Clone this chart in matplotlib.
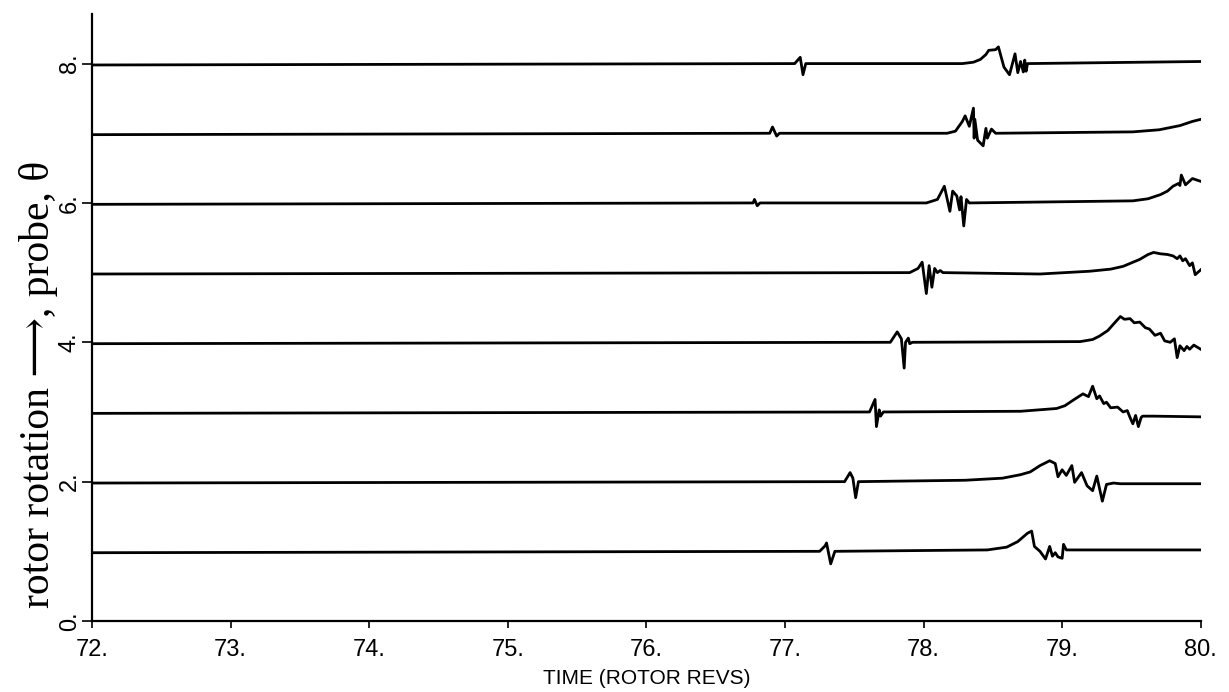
import numpy as np
import matplotlib
matplotlib.use("Agg")
import matplotlib.pyplot as plt

# probe traces: (time in rotor revs, deviation from the probe's baseline)
# each probe is drawn at its own offset on the y axis
probe_offsets = [1, 2, 3, 4, 5, 6, 7, 8]

p1_x  = [72.0, 77.25, 77.29, 77.30, 77.33, 77.36, 78.46, 78.60, 78.68, 78.75, 78.78, 78.80, 78.84, 78.88, 78.91, 78.93, 78.95, 78.97, 79.00, 79.01, 79.03, 80.0]
p1_dy = [-0.02, 0.0, 0.08, 0.12, -0.18, 0.0, 0.02, 0.06, 0.14, 0.26, 0.29, 0.07, 0.0, -0.11, 0.07, -0.07, -0.02, -0.08, -0.10, 0.10, 0.02, 0.02]

p2_x  = [72.0, 77.43, 77.47, 77.49, 77.51, 77.53, 78.30, 78.57, 78.70, 78.77, 78.84, 78.91, 78.95, 78.97, 79.00, 79.03, 79.07, 79.09, 79.14, 79.18, 79.22, 79.25, 79.29, 79.32, 79.37, 79.42, 80.0]
p2_dy = [-0.02, 0.0, 0.13, 0.05, -0.23, 0.0, 0.02, 0.05, 0.10, 0.14, 0.23, 0.30, 0.26, 0.07, 0.17, 0.09, 0.23, -0.01, 0.13, -0.06, -0.13, 0.08, -0.28, -0.04, -0.02, -0.03, -0.03]

p3_x  = [72.0, 77.61, 77.65, 77.66, 77.68, 77.69, 77.71, 78.70, 78.96, 79.02, 79.08, 79.15, 79.19, 79.22, 79.25, 79.27, 79.30, 79.32, 79.35, 79.40, 79.44, 79.47, 79.49, 79.51, 79.53, 79.55, 79.57, 79.58, 79.66, 80.0]
p3_dy = [-0.02, 0.0, 0.18, -0.21, 0.03, -0.06, 0.0, 0.01, 0.05, 0.09, 0.17, 0.26, 0.22, 0.37, 0.19, 0.23, 0.12, 0.14, 0.06, 0.07, 0.0, 0.02, -0.08, -0.17, -0.05, -0.21, -0.08, -0.06, -0.06, -0.07]

p4_x  = [72.0, 77.76, 77.81, 77.84, 77.86, 77.87, 77.89, 77.90, 77.92, 79.13, 79.22, 79.27, 79.33, 79.37, 79.42, 79.45, 79.49, 79.52, 79.56, 79.60, 79.63, 79.67, 79.71, 79.74, 79.78, 79.81, 79.83, 79.85, 79.88, 79.90, 79.92, 79.95, 80.0]
p4_dy = [-0.02, 0.0, 0.15, 0.05, -0.37, 0.0, 0.06, -0.02, 0.0, 0.01, 0.04, 0.09, 0.17, 0.26, 0.37, 0.33, 0.34, 0.28, 0.29, 0.21, 0.19, 0.10, 0.13, 0.02, 0.0, 0.05, -0.22, -0.05, -0.12, -0.06, -0.10, -0.04, -0.10]

p5_x  = [72.0, 77.90, 77.96, 77.99, 78.02, 78.04, 78.06, 78.08, 78.10, 78.12, 78.14, 78.84, 79.20, 79.35, 79.44, 79.50, 79.56, 79.62, 79.66, 79.71, 79.76, 79.80, 79.83, 79.85, 79.87, 79.89, 79.92, 79.94, 79.96, 80.0]
p5_dy = [-0.02, 0.0, 0.06, 0.15, -0.30, 0.10, -0.21, 0.06, 0.0, 0.03, 0.0, -0.02, 0.02, 0.05, 0.09, 0.14, 0.19, 0.26, 0.29, 0.27, 0.26, 0.24, 0.20, 0.24, 0.17, 0.20, 0.10, 0.14, -0.03, 0.04]

p6_x  = [72.0, 76.77, 76.78, 76.80, 76.82, 78.02, 78.10, 78.15, 78.19, 78.21, 78.24, 78.26, 78.27, 78.29, 78.31, 78.33, 79.51, 79.62, 79.71, 79.76, 79.80, 79.84, 79.85, 79.86, 79.89, 79.94, 80.0]
p6_dy = [-0.02, 0.0, 0.05, -0.04, 0.0, 0.0, 0.05, 0.24, -0.12, 0.17, 0.10, -0.10, 0.09, -0.33, 0.05, 0.0, 0.03, 0.06, 0.12, 0.17, 0.24, 0.28, 0.25, 0.40, 0.26, 0.35, 0.31]

p7_x  = [72.0, 76.89, 76.91, 76.94, 76.96, 78.17, 78.23, 78.28, 78.30, 78.33, 78.36, 78.365, 78.37, 78.39, 78.43, 78.45, 78.46, 78.49, 78.52, 79.51, 79.70, 79.85, 79.94, 80.0]
p7_dy = [-0.02, 0.0, 0.09, -0.04, 0.0, 0.0, 0.03, 0.17, 0.25, 0.10, 0.36, -0.07, 0.20, -0.10, -0.18, 0.07, -0.07, 0.06, 0.0, 0.02, 0.05, 0.11, 0.17, 0.20]

p8_x  = [72.0, 77.07, 77.11, 77.13, 77.15, 78.28, 78.36, 78.41, 78.45, 78.47, 78.52, 78.54, 78.58, 78.62, 78.66, 78.68, 78.70, 78.72, 78.73, 78.74, 78.75, 80.0]
p8_dy = [-0.02, 0.0, 0.09, -0.16, 0.0, 0.0, 0.02, 0.06, 0.13, 0.19, 0.20, 0.24, -0.05, -0.16, 0.14, -0.13, 0.03, -0.12, 0.05, -0.11, 0.0, 0.03]

traces_x = [p1_x, p2_x, p3_x, p4_x, p5_x, p6_x, p7_x, p8_x]
traces_dy = [p1_dy, p2_dy, p3_dy, p4_dy, p5_dy, p6_dy, p7_dy, p8_dy]

xticks = [72, 73, 74, 75, 76, 77, 78, 79, 80]
xtick_labels = ["72.", "73.", "74.", "75.", "76.", "77.", "78.", "79.", "80."]
yticks = [0, 2, 4, 6, 8]
ytick_labels = ["0.", "2.", "4.", "6.", "8."]

fig = plt.figure(figsize=(12.29, 6.92), dpi=100)
ax = fig.add_axes([0.0749, 0.1026, 0.9021, 0.877])

for off, xs, dys in zip(probe_offsets, traces_x, traces_dy):
    ax.plot(xs, off + np.array(dys), color="black", lw=2.0)

ax.set_xlim(72, 80)
ax.set_ylim(0, 8.71)

for s in ["top", "right"]:
    ax.spines[s].set_visible(False)
for s in ["left", "bottom"]:
    ax.spines[s].set_linewidth(1.6)

ax.set_xticks(xticks)
ax.set_xticklabels(xtick_labels, fontsize=17, family="Liberation Sans")
ax.set_yticks(yticks)
ax.set_yticklabels(ytick_labels, fontsize=17, family="Liberation Sans", rotation=90, va="center")
ax.tick_params(axis="x", direction="out", length=5, width=1.2, pad=8)
ax.tick_params(axis="y", direction="out", length=7, width=1.2, pad=1)

ax.set_xlabel("TIME (ROTOR REVS)", fontsize=15, family="Liberation Sans", labelpad=6)
ax.set_ylabel("rotor rotation \u27f6, probe, \u03b8", fontsize=30,
              family=["Liberation Serif", "DejaVu Serif"])
ax.yaxis.set_label_coords(-0.031, 0.39)

fig.savefig("out.png", dpi=100)
